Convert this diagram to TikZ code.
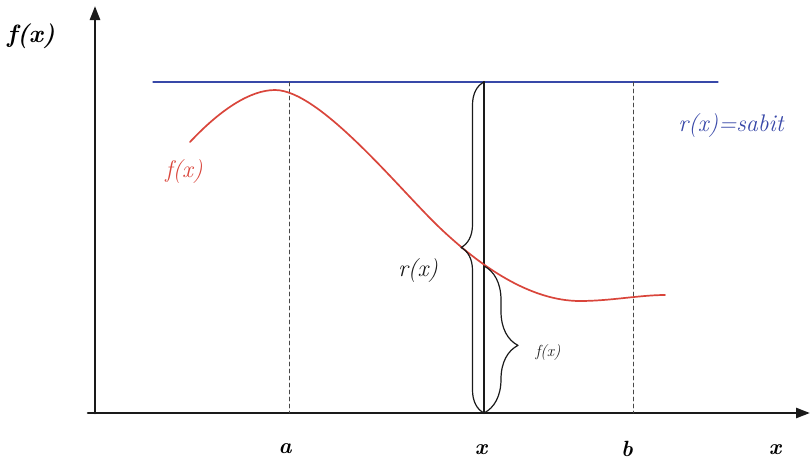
\documentclass[tikz,border=0pt]{standalone}
\usetikzlibrary{arrows.meta,positioning,calc,decorations.pathreplacing}
\definecolor{ink}{HTML}{1A1A1A}
\definecolor{fcol}{HTML}{D9453B}
\definecolor{rcol}{HTML}{3848A8}

\begin{document}
\begin{tikzpicture}[x=1pt, y=-1pt, line cap=round, line join=round,
  axis/.style={-{Triangle[length=14pt,width=10pt]}, ink, line width=2.6pt},
  guide/.style={ink!80, dashed, dash pattern=on 4pt off 3pt, line width=0.8pt},
  brc/.style={decorate, ink, line width=1.2pt},
  lbl/.style={font=\itshape, inner sep=0pt},
  tick/.style={font=\bfseries\itshape\fontsize{22}{24}\selectfont, inner sep=0pt}]

\useasboundingbox (0,0) rectangle (811,461);

% ================================================ axes
\coordinate (o) at (95,413);
\coordinate (ytop) at (95,6);
\coordinate (xl) at (88,413);
\coordinate (xr) at (810,413);
\draw[axis] (o) -- (ytop);
\draw[axis] (xl) -- (xr);
\node[font=\bfseries\itshape\fontsize{25}{27}\selectfont, inner sep=0pt] (fy) at (31,36) {f(x)};

% ================================================ constant r(x)
\coordinate (rl) at (153,82);
\coordinate (rr) at (718,82);
\draw[rcol, line width=1.1pt] (rl) -- (rr);
\node[lbl, rcol, font=\itshape\fontsize{24}{26}\selectfont] (rlab) at (731,126) {r(x)=sabit};

% ================================================ a, x, b
\coordinate (at) at (289,82);  \coordinate (ab) at (289,413);
\coordinate (bt) at (633,82);  \coordinate (bb) at (633,413);
\coordinate (xt) at (484,82);  \coordinate (xb) at (484,413);
\draw[guide] (at) -- (ab);
\draw[guide] (bt) -- (bb);
\draw[ink, line width=2.2pt] (xt) -- (xb);
\node[tick] (ta) at (285,449) {a};
\node[tick] (tx) at (481,450) {x};
\node[tick] (tb) at (627,449) {b};
\node[tick] (tX) at (775,450) {x};

% ================================================ f(x)
\draw[fcol, line width=1.7pt] (190,142) .. controls (220,110) and (250,90) .. (275,90)
  .. controls (320,90) and (400,190) .. (440,228)
  .. controls (480,266) and (530,301) .. (580,301)
  .. controls (610,301) and (640,295) .. (665,295);
\coordinate (fx) at (484,266);
\node[lbl, fcol, font=\itshape\fontsize{24}{26}\selectfont] (flab) at (184,172) {f(x)};

% ================================================ braces
\draw[brc, decoration={brace, amplitude=23pt, aspect=0.5}] (xb) -- (xt);
\draw[brc, decoration={brace, amplitude=34pt, aspect=0.54}] (fx) -- (xb);
\node[lbl, ink, font=\itshape\fontsize{24}{26}\selectfont] (rx) at (418,271) {r(x)};
\node[lbl, ink, font=\itshape\fontsize{16}{18}\selectfont] (fsm) at (548,353) {f(x)};

\end{tikzpicture}
\end{document}
